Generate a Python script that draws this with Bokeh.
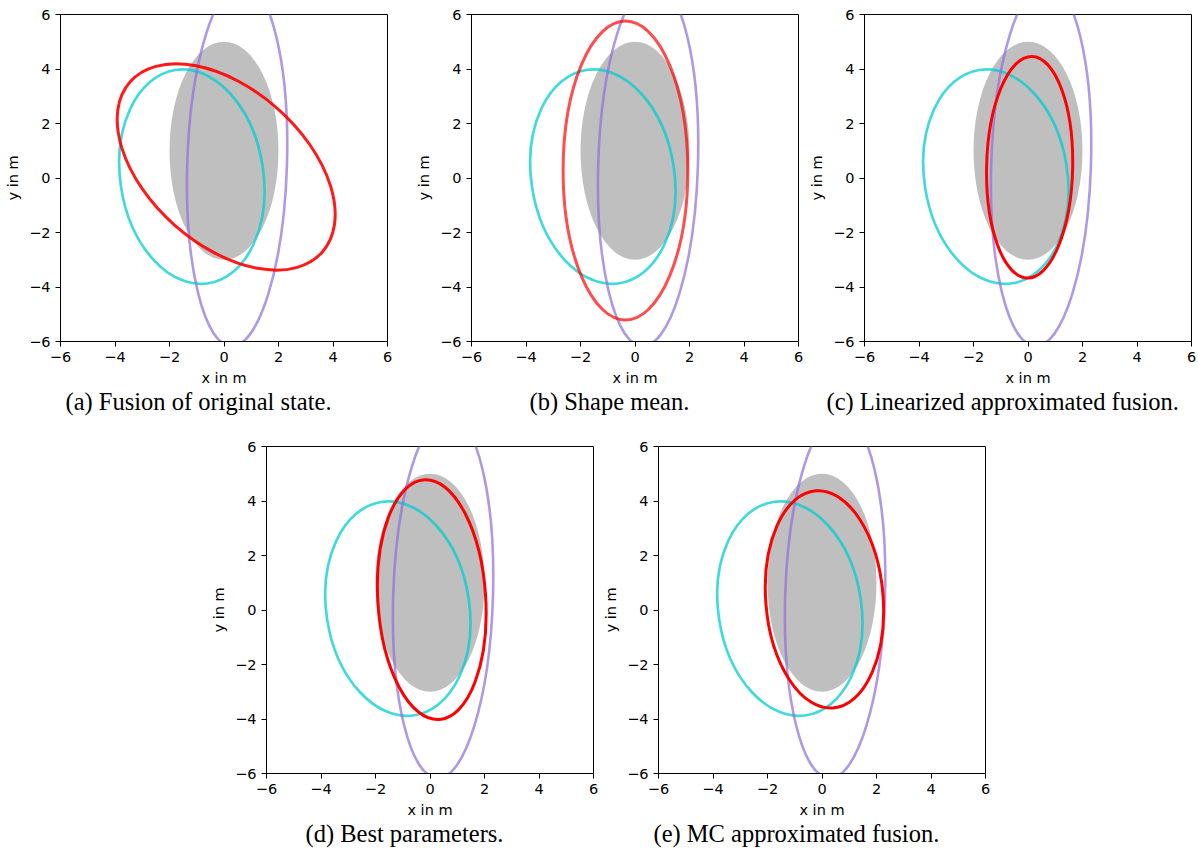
import numpy as np
from bokeh.plotting import figure
from bokeh.models import Range1d, FixedTicker, Title, Spacer
from bokeh.layouts import row, column
from bokeh.embed import file_html
from bokeh.resources import INLINE

# ---------------- data ----------------
captions = [
    "(a) Fusion of original state.",
    "(b) Shape mean.",
    "(c) Linearized approximated fusion.",
    "(d) Best parameters.",
    "(e) MC approximated fusion.",
]

tick_values = [-6, -4, -2, 0, 2, 4, 6]
tick_labels = ["\u22126", "\u22124", "\u22122", "0", "2", "4", "6"]

# ground-truth extent (grey): centre and shape matrix entries [sxx, sxy, syy]
truth_center = [0.0, 1.0]
truth_shape = [4.0, 0.0, 16.0]

# first estimate (turquoise)
est1_center = [-1.18, 0.05]
est1_shape = [7.10, -1.33, 15.48]

# second estimate (purple)
est2_center = [0.48, 0.50]
est2_shape = [3.39, 1.30, 44.6]

# fused result (red), one per panel
fused_cx = [0.08, -0.35, 0.06, 0.065, 0.09]
fused_cy = [0.405, 0.275, 0.395, 0.38, 0.39]
fused_sxx = [16.0, 5.24, 2.50, 3.98, 4.71]
fused_sxy = [-6.97, 0.0, 0.30, -0.95, -0.90]
fused_syy = [14.33, 30.09, 16.52, 19.36, 15.92]
fused_alpha = [0.9, 0.7, 1.0, 1.0, 1.0]


def ellipse_params(sxx, sxy, syy):
    vals, vecs = np.linalg.eigh(np.array([[sxx, sxy], [sxy, syy]]))
    major = vecs[:, 1]
    angle = float(np.arctan2(major[1], major[0]))
    return float(2 * np.sqrt(vals[1])), float(2 * np.sqrt(vals[0])), angle


AX_FONT = "DejaVu Sans"
CAP_FONT = "Liberation Serif"
FRAME = 327


def make_panel(i, left, right, top, bottom, cap_offset):
    p = figure(frame_width=FRAME, frame_height=FRAME,
               x_range=Range1d(-6, 6), y_range=Range1d(-6, 6),
               output_backend="svg", toolbar_location=None,
               min_border_left=left, min_border_right=right,
               min_border_top=top, min_border_bottom=bottom,
               background_fill_color="white", border_fill_color="white")
    p.xgrid.visible = False
    p.ygrid.visible = False
    p.xaxis.axis_label = "x in m"
    p.yaxis.axis_label = "y in m"
    for ax in (p.xaxis, p.yaxis):
        ax.ticker = FixedTicker(ticks=tick_values)
        ax.major_label_overrides = dict(zip(tick_values, tick_labels))
        ax.minor_tick_line_color = None
        ax.major_tick_out = 5
        ax.major_tick_in = 0
        ax.major_tick_line_color = "black"
        ax.axis_line_color = "black"
        ax.major_label_text_font = AX_FONT
        ax.major_label_text_font_size = "14.5px"
        ax.major_label_text_color = "black"
        ax.axis_label_text_font = AX_FONT
        ax.axis_label_text_font_size = "14.5px"
        ax.axis_label_text_font_style = "normal"
        ax.axis_label_text_color = "black"
        ax.major_label_standoff = 5
        ax.axis_label_standoff = 5
    p.outline_line_color = "black"
    p.outline_line_width = 1
    p.outline_line_alpha = 1

    w, h, a = ellipse_params(*truth_shape)
    p.ellipse(x=[truth_center[0]], y=[truth_center[1]], width=[w], height=[h], angle=[a],
              fill_color="#bfbfbf", line_color=None)

    w, h, a = ellipse_params(*est1_shape)
    p.ellipse(x=[est1_center[0]], y=[est1_center[1]], width=[w], height=[h], angle=[a],
              fill_color=None, line_color="darkturquoise", line_alpha=0.75, line_width=2.7)

    w, h, a = ellipse_params(*est2_shape)
    p.ellipse(x=[est2_center[0]], y=[est2_center[1]], width=[w], height=[h], angle=[a],
              fill_color=None, line_color="mediumpurple", line_alpha=0.72, line_width=2.6)

    w, h, a = ellipse_params(fused_sxx[i], fused_sxy[i], fused_syy[i])
    p.ellipse(x=[fused_cx[i]], y=[fused_cy[i]], width=[w], height=[h], angle=[a],
              fill_color=None, line_color="red", line_alpha=fused_alpha[i], line_width=3)

    cap = Title(text=captions[i], align="left", offset=cap_offset, standoff=-5,
                text_font=CAP_FONT, text_font_size="24.5px",
                text_font_style="normal", text_color="black")
    p.add_layout(cap, "below")
    return p


pa = make_panel(0, 60, 24, 14, 95, 5)
pb = make_panel(1, 60, 6, 14, 95, 58)
pc = make_panel(2, 60, 7, 14, 95, -38)
pd = make_panel(3, 60, 5, 10, 80, 39)
pe = make_panel(4, 60, 20, 10, 80, -5)

layout = column(row(pa, pb, pc), row(Spacer(width=206, height=10), pd, pe))

open("out.html", "w").write(file_html(layout, INLINE))
